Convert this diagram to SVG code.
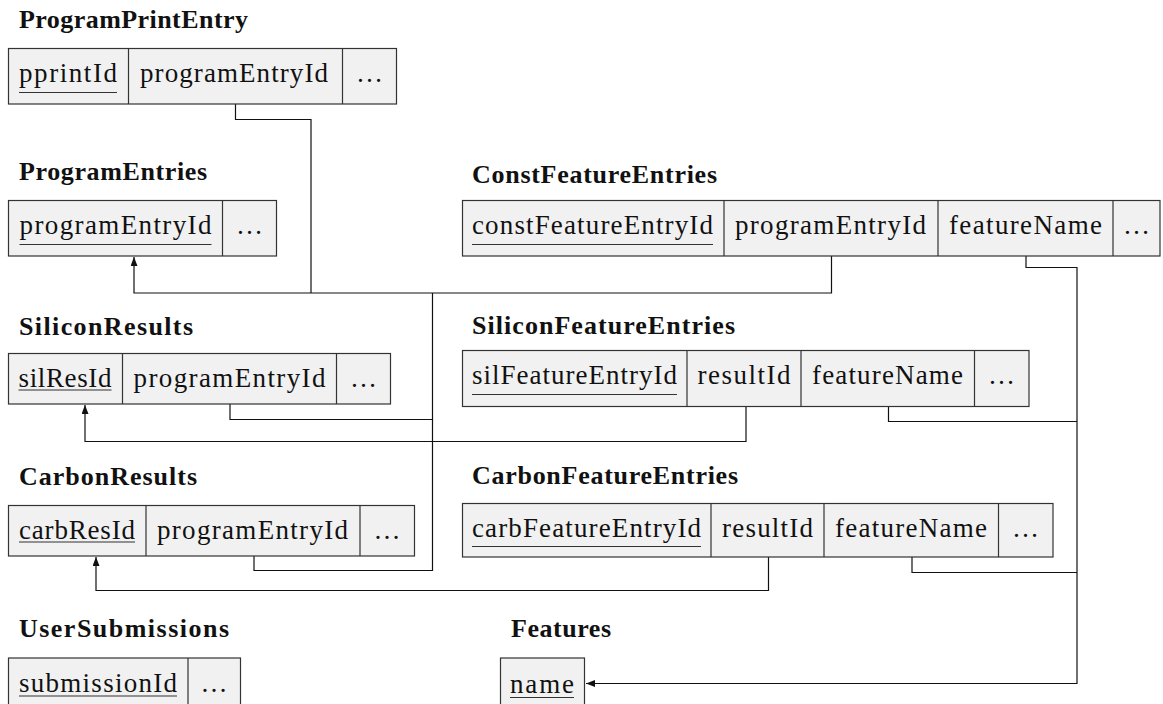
<svg xmlns="http://www.w3.org/2000/svg" width="1163" height="704" viewBox="0 0 1163 704">
<style>
.title{font-family:"Liberation Serif",serif;font-weight:bold;font-size:26px;fill:#111}
.cell{font-family:"Liberation Serif",serif;font-size:27px;fill:#111}
.dots{font-family:"Liberation Serif",serif;font-size:27px;fill:#111;text-anchor:middle}
.box{fill:#f1f1f1;stroke:#333;stroke-width:1.2}
.div{stroke:#333;stroke-width:1.2}
.ul{stroke:#333;stroke-width:1.2}
.conn{fill:none;stroke:#111;stroke-width:1.2}
</style>
<defs>
<marker id="arr" markerWidth="10" markerHeight="8" refX="9" refY="3.5" orient="auto" markerUnits="userSpaceOnUse">
<path d="M0,0 L9,3.5 L0,7 z" fill="#111"/>
</marker>
</defs>
<rect width="1163" height="704" fill="#fff"/>

<g id="connectors">
<path class="conn" d="M235.5,104 V119.5 H311 V293"/>
<path class="conn" d="M831.5,256 V293 H134 V257" marker-end="url(#arr)"/>
<path class="conn" d="M230,404 V419.5 H432.5 V293"/>
<path class="conn" d="M254,556 V570.5 H432.5 V419"/>
<path class="conn" d="M746,406.5 V441.5 H85 V405" marker-end="url(#arr)"/>
<path class="conn" d="M768.5,557 V590.5 H96 V557" marker-end="url(#arr)"/>
<path class="conn" d="M1026,256 V267.5 H1077 V683.5 H586" marker-end="url(#arr)"/>
<path class="conn" d="M888.5,406.5 V421.5 H1077"/>
<path class="conn" d="M912,557 V572.5 H1077"/>
</g>

<g id="ProgramPrintEntry">
<text class="title" x="19" y="28" textLength="229">ProgramPrintEntry</text>
<rect class="box" x="8.5" y="48.5" width="388" height="55.5"/>
<line class="div" x1="128.5" y1="48.5" x2="128.5" y2="104"/>
<line class="div" x1="342.5" y1="48.5" x2="342.5" y2="104"/>
<text class="cell" x="19" y="82" textLength="98">pprintId</text>
<line class="ul" x1="19" y1="92.5" x2="117" y2="92.5"/>
<text class="cell" x="140" y="82" textLength="188">programEntryId</text>
<text class="dots" x="369.5" y="82">…</text>
</g>

<g id="ProgramEntries">
<text class="title" x="19" y="180" textLength="188">ProgramEntries</text>
<rect class="box" x="8.5" y="200.5" width="268" height="55.5"/>
<line class="div" x1="222.5" y1="200.5" x2="222.5" y2="256"/>
<text class="cell" x="19.5" y="234" textLength="192">programEntryId</text>
<line class="ul" x1="19.5" y1="244.5" x2="211.5" y2="244.5"/>
<text class="dots" x="249.5" y="234">…</text>
</g>

<g id="ConstFeatureEntries">
<text class="title" x="472" y="183" textLength="245">ConstFeatureEntries</text>
<rect class="box" x="462.5" y="200.5" width="697.5" height="55.5"/>
<line class="div" x1="724" y1="200.5" x2="724" y2="256"/>
<line class="div" x1="938" y1="200.5" x2="938" y2="256"/>
<line class="div" x1="1113" y1="200.5" x2="1113" y2="256"/>
<text class="cell" x="472" y="234" textLength="241">constFeatureEntryId</text>
<line class="ul" x1="472" y1="244.5" x2="713" y2="244.5"/>
<text class="cell" x="735" y="234" textLength="191">programEntryId</text>
<text class="cell" x="949" y="234" textLength="153">featureName</text>
<text class="dots" x="1136.5" y="234">…</text>
</g>

<g id="SiliconResults">
<text class="title" x="19" y="335" textLength="174">SiliconResults</text>
<rect class="box" x="8.5" y="353.5" width="382" height="50.5"/>
<line class="div" x1="122.5" y1="353.5" x2="122.5" y2="404"/>
<line class="div" x1="336.5" y1="353.5" x2="336.5" y2="404"/>
<text class="cell" x="18.5" y="386.5" textLength="93">silResId</text>
<line class="ul" x1="18.5" y1="390" x2="111.5" y2="390"/>
<text class="cell" x="133.5" y="386.5" textLength="192">programEntryId</text>
<text class="dots" x="363.5" y="386.5">…</text>
</g>

<g id="SiliconFeatureEntries">
<text class="title" x="472" y="333.5" textLength="263">SiliconFeatureEntries</text>
<rect class="box" x="462.5" y="350.5" width="566.5" height="56"/>
<line class="div" x1="687" y1="350.5" x2="687" y2="406.5"/>
<line class="div" x1="801" y1="350.5" x2="801" y2="406.5"/>
<line class="div" x1="974.5" y1="350.5" x2="974.5" y2="406.5"/>
<text class="cell" x="472" y="384" textLength="205">silFeatureEntryId</text>
<line class="ul" x1="472" y1="394.5" x2="677" y2="394.5"/>
<text class="cell" x="697.5" y="384" textLength="93">resultId</text>
<text class="cell" x="812" y="384" textLength="151">featureName</text>
<text class="dots" x="1001.5" y="384">…</text>
</g>

<g id="CarbonResults">
<text class="title" x="19" y="485" textLength="178">CarbonResults</text>
<rect class="box" x="8.5" y="505.5" width="406" height="50.5"/>
<line class="div" x1="146" y1="505.5" x2="146" y2="556"/>
<line class="div" x1="360" y1="505.5" x2="360" y2="556"/>
<text class="cell" x="19" y="538.5" textLength="116">carbResId</text>
<line class="ul" x1="19" y1="542" x2="135" y2="542"/>
<text class="cell" x="157" y="538.5" textLength="191">programEntryId</text>
<text class="dots" x="387" y="538.5">…</text>
</g>

<g id="CarbonFeatureEntries">
<text class="title" x="472" y="483.5" textLength="266">CarbonFeatureEntries</text>
<rect class="box" x="462.5" y="503.5" width="590.5" height="53.5"/>
<line class="div" x1="711" y1="503.5" x2="711" y2="557"/>
<line class="div" x1="824" y1="503.5" x2="824" y2="557"/>
<line class="div" x1="998.5" y1="503.5" x2="998.5" y2="557"/>
<text class="cell" x="472" y="536.5" textLength="229">carbFeatureEntryId</text>
<line class="ul" x1="472" y1="546.5" x2="701" y2="546.5"/>
<text class="cell" x="722" y="536.5" textLength="91">resultId</text>
<text class="cell" x="835" y="536.5" textLength="152">featureName</text>
<text class="dots" x="1025.5" y="536.5">…</text>
</g>

<g id="UserSubmissions">
<text class="title" x="19" y="637" textLength="210">UserSubmissions</text>
<rect class="box" x="8.5" y="658" width="232" height="56"/>
<line class="div" x1="188" y1="658" x2="188" y2="714"/>
<text class="cell" x="19" y="691.5" textLength="158">submissionId</text>
<line class="ul" x1="19" y1="696" x2="177" y2="696"/>
<text class="dots" x="214" y="691.5">…</text>
</g>

<g id="Features">
<text class="title" x="511" y="637" textLength="100">Features</text>
<rect class="box" x="500.5" y="658" width="84" height="56"/>
<text class="cell" x="510" y="693" textLength="64">name</text>
<line class="ul" x1="510" y1="697.5" x2="574" y2="697.5"/>
</g>
</svg>
